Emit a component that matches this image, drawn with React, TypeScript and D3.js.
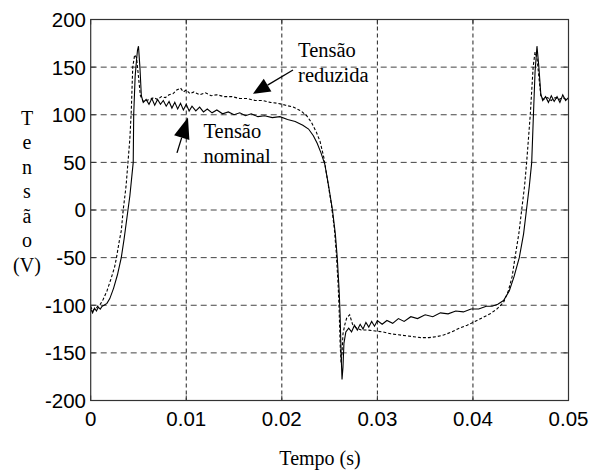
import * as React from "react";
import * as d3 from "d3";

// [tempo (s), tensão (V)]
const nominal: [number, number][] = [
  [0, -104], [0.0002, -108], [0.0004, -103], [0.0006, -106], [0.0008, -102],
  [0.001, -104], [0.0012, -101], [0.0014, -100], [0.0017, -98], [0.002, -93],
  [0.0024, -82], [0.0028, -68], [0.0032, -50], [0.0035, -30], [0.0039, 0],
  [0.0041, 15], [0.0043, 35], [0.00445, 50], [0.0045, 100], [0.00465, 140],
  [0.0048, 158], [0.0049, 168], [0.005, 172], [0.00515, 150], [0.0053, 120],
  [0.0055, 113], [0.0058, 116], [0.0061, 111], [0.0064, 117], [0.0067, 110],
  [0.007, 116], [0.0073, 111], [0.0076, 115], [0.0079, 109], [0.0082, 114],
  [0.0085, 107], [0.0088, 113], [0.0091, 106], [0.0094, 112], [0.0097, 105],
  [0.01, 111], [0.0103, 104], [0.0106, 109], [0.011, 104], [0.0114, 108],
  [0.0118, 103], [0.0122, 106], [0.0127, 102], [0.0132, 105], [0.0138, 101],
  [0.0144, 103], [0.015, 100], [0.0156, 102], [0.0162, 99], [0.0168, 101],
  [0.0175, 98], [0.0182, 99], [0.019, 97], [0.0198, 98], [0.0206, 95],
  [0.0214, 93], [0.0222, 89], [0.0228, 85], [0.0233, 78], [0.0237, 70],
  [0.0241, 60], [0.0245, 48], [0.0249, 25], [0.0253, 0], [0.0256, -25],
  [0.0258, -50], [0.026, -85], [0.0261, -110], [0.0262, -150], [0.0263, -178],
  [0.0264, -165], [0.0265, -140], [0.0267, -128], [0.027, -124], [0.0273, -128],
  [0.0276, -121], [0.0279, -126], [0.0282, -120], [0.0285, -125], [0.0288, -118],
  [0.0291, -123], [0.0294, -117], [0.0297, -122], [0.03, -116], [0.0305, -120],
  [0.031, -116], [0.0316, -119], [0.0322, -114], [0.0328, -117], [0.0335, -112],
  [0.0342, -114], [0.035, -110], [0.0358, -112], [0.0366, -108], [0.0374, -109],
  [0.0382, -106], [0.039, -107], [0.0398, -104], [0.0406, -104], [0.0414, -101],
  [0.042, -101], [0.0426, -99], [0.0432, -95], [0.0438, -85], [0.0443, -70],
  [0.04485, -50], [0.0453, -25], [0.0456, 0], [0.0459, 25], [0.04615, 50],
  [0.04633, 100], [0.0465, 145], [0.0467, 172], [0.0469, 150], [0.0471, 122],
  [0.0473, 115], [0.0476, 119], [0.0479, 113], [0.0482, 120], [0.0485, 114],
  [0.0488, 119], [0.0491, 113], [0.0494, 121], [0.0497, 115], [0.05, 118],
];

const reduzida: [number, number][] = [
  [0, -101], [0.0002, -106], [0.0004, -104], [0.0006, -103], [0.0008, -100],
  [0.001, -99], [0.0013, -94], [0.0017, -85], [0.0021, -73], [0.0025, -60],
  [0.0027, -50], [0.003, -32], [0.0032, -22], [0.0034, 0], [0.0037, 25],
  [0.0039, 50], [0.0041, 75], [0.00425, 105], [0.0044, 150], [0.0046, 163],
  [0.0048, 160], [0.005, 140], [0.0052, 120], [0.0055, 114], [0.0058, 115],
  [0.0062, 116], [0.0066, 118], [0.007, 116], [0.0074, 119], [0.0078, 118],
  [0.0082, 121], [0.0086, 122], [0.009, 126], [0.0094, 128], [0.0097, 124],
  [0.01, 126], [0.0104, 122], [0.0108, 124], [0.0114, 121], [0.012, 123],
  [0.0126, 120], [0.0132, 121], [0.014, 119], [0.0148, 119], [0.0156, 117],
  [0.0164, 117], [0.0172, 115], [0.018, 115], [0.0188, 113], [0.0196, 112],
  [0.0204, 110], [0.0212, 108], [0.022, 104], [0.0226, 99], [0.0231, 92],
  [0.0236, 82], [0.024, 72], [0.0244, 55], [0.0248, 30], [0.0252, 5],
  [0.0255, -20], [0.0257, -45], [0.0259, -80], [0.026, -105], [0.0261, -140],
  [0.0262, -160], [0.0263, -150], [0.0264, -130], [0.0266, -120], [0.0268, -113],
  [0.0271, -110], [0.0274, -120], [0.0278, -124], [0.0283, -126], [0.029, -126],
  [0.0298, -127], [0.0306, -128], [0.0314, -130], [0.0322, -131], [0.033, -132],
  [0.0338, -133], [0.0346, -134], [0.0354, -134], [0.0362, -133], [0.037, -131],
  [0.0378, -128], [0.0386, -124], [0.0394, -121], [0.0402, -117], [0.041, -113],
  [0.0418, -109], [0.0425, -104], [0.0432, -97], [0.0437, -85], [0.0441, -70],
  [0.0444, -50], [0.0448, -25], [0.0451, 0], [0.0454, 25], [0.04562, 50],
  [0.046, 100], [0.0463, 150], [0.0465, 166], [0.0467, 160], [0.0469, 140],
  [0.0471, 120], [0.0474, 116], [0.0478, 118], [0.0482, 115], [0.0486, 118],
  [0.049, 116], [0.0494, 118], [0.0498, 116], [0.05, 117],
];

const xTicks = [0, 0.01, 0.02, 0.03, 0.04, 0.05];
const yTicks = [-200, -150, -100, -50, 0, 50, 100, 150, 200];
const yLabelChars = ["T", "e", "n", "s", "ã", "o", "(V)"];

// annotation anchors in data units: [t, v]
const reduzidaArrow: [number, number][] = [[0.02117, 147], [0.01698, 122]];
const nominalArrow: [number, number][] = [[0.00903, 60], [0.01018, 97]];
const reduzidaText = { t: 0.0217, v: 161, lines: ["Tensão", "reduzida"] };
const nominalText = { t: 0.0118, v: 76, lines: ["Tensão", "nominal"] };

const W = 599;
const H = 470;
const left = 90.7;
const right = 568.5;
const top = 19.5;
const bottom = 400.5;

const sans = '"Liberation Sans", Arial, sans-serif';
const serif = '"Liberation Serif", "Times New Roman", serif';

function Arrow({ pts, x, y, head, width }: { pts: [number, number][]; x: d3.ScaleLinear<number, number>; y: d3.ScaleLinear<number, number>; head: number; width: number }) {
  const x0 = x(pts[0][0]), y0 = y(pts[0][1]);
  const x1 = x(pts[1][0]), y1 = y(pts[1][1]);
  const dx = x1 - x0, dy = y1 - y0;
  const len = Math.hypot(dx, dy);
  const ux = dx / len, uy = dy / len;
  const bx = x1 - ux * head, by = y1 - uy * head;
  const px = -uy * width / 2, py = ux * width / 2;
  return (
    <g>
      <line x1={x0} y1={y0} x2={bx} y2={by} stroke="#000" strokeWidth={1.3} />
      <path d={`M${x1},${y1}L${bx + px},${by + py}L${bx - px},${by - py}Z`} fill="#000" />
    </g>
  );
}

export default function App() {
  const x = d3.scaleLinear().domain([0, 0.05]).range([left, right]);
  const y = d3.scaleLinear().domain([-200, 200]).range([bottom, top]);
  const line = d3.line<[number, number]>().x((d) => x(d[0])).y((d) => y(d[1]));

  return (
    <div style={{ position: "absolute", left: 0, top: 0 }}>
      <svg width={W} height={H} style={{ display: "block", background: "#fff" }}>
        {/* grid */}
        {xTicks.slice(1, -1).map((t) => (
          <line key={"gx" + t} x1={x(t)} x2={x(t)} y1={top} y2={bottom} stroke="#222" strokeWidth={1} strokeDasharray="4,3" />
        ))}
        {yTicks.slice(1, -1).map((v) => (
          <line key={"gy" + v} x1={left} x2={right} y1={y(v)} y2={y(v)} stroke="#444" strokeWidth={1} strokeDasharray="6,4" />
        ))}
        {/* tick marks */}
        {xTicks.map((t) => (
          <g key={"tx" + t}>
            <line x1={x(t)} x2={x(t)} y1={bottom} y2={bottom - 5} stroke="#333" />
            <line x1={x(t)} x2={x(t)} y1={top} y2={top + 5} stroke="#333" />
          </g>
        ))}
        {yTicks.map((v) => (
          <g key={"ty" + v}>
            <line x1={left} x2={left + 5} y1={y(v)} y2={y(v)} stroke="#333" />
            <line x1={right} x2={right - 5} y1={y(v)} y2={y(v)} stroke="#333" />
          </g>
        ))}
        {/* traces */}
        <path d={line(reduzida) ?? ""} fill="none" stroke="#000" strokeWidth={1.1} strokeDasharray="3,2" />
        <path d={line(nominal) ?? ""} fill="none" stroke="#000" strokeWidth={1.1} />
        {/* frame */}
        <rect x={left} y={top} width={right - left} height={bottom - top} fill="none" stroke="#333" strokeWidth={1.2} />
        {/* tick labels */}
        {xTicks.map((t) => (
          <text key={"lx" + t} x={x(t)} y={426} textAnchor="middle" fontFamily={sans} fontSize={20.5} fill="#000">
            {t === 0 ? "0" : t.toFixed(2)}
          </text>
        ))}
        {yTicks.map((v) => (
          <text key={"ly" + v} x={86} y={y(v)} dy="0.36em" textAnchor="end" fontFamily={sans} fontSize={20.5} fill="#000">
            {v}
          </text>
        ))}
        {/* axis titles */}
        {yLabelChars.map((c, i) => (
          <text key={"yl" + i} x={27} y={124.5 + i * 24.5} textAnchor="middle" fontFamily={serif} fontSize={20} fill="#000">
            {c}
          </text>
        ))}
        <text x={320} y={465} textAnchor="middle" fontFamily={serif} fontSize={20} fill="#000">
          Tempo (s)
        </text>
        {/* annotations */}
        <Arrow pts={reduzidaArrow} x={x} y={y} head={17} width={15} />
        <Arrow pts={nominalArrow} x={x} y={y} head={21} width={16} />
        {[reduzidaText, nominalText].map((a, k) => (
          <text key={"an" + k} fontFamily={serif} fontSize={20.5} fill="#000">
            {a.lines.map((s, i) => (
              <tspan key={i} x={x(a.t)} y={y(a.v) + i * 25}>
                {s}
              </tspan>
            ))}
          </text>
        ))}
      </svg>
    </div>
  );
}
